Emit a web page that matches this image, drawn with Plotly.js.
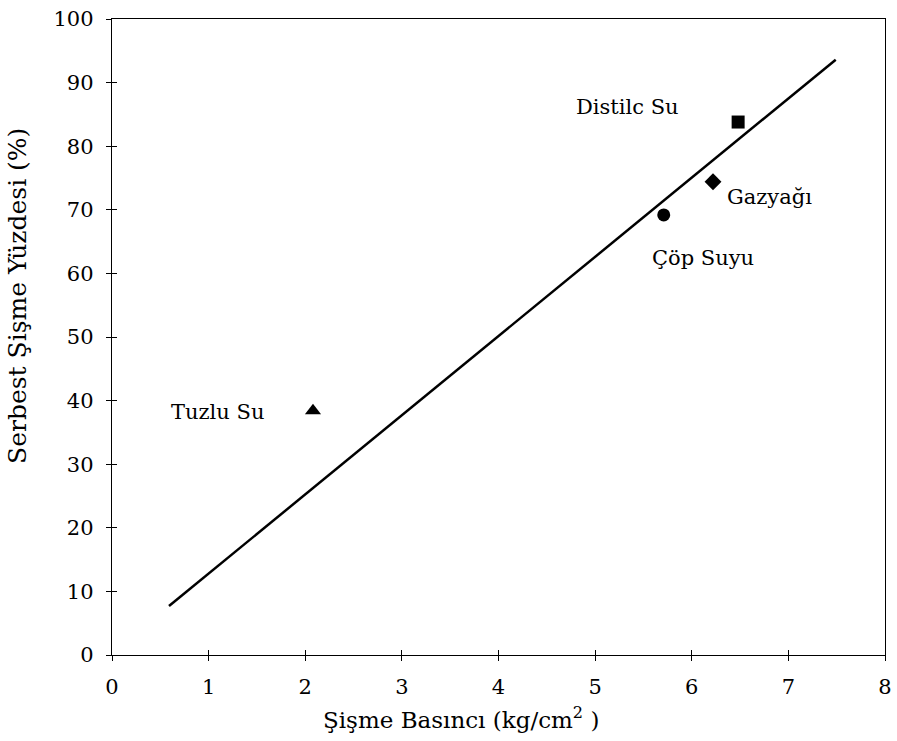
<!DOCTYPE html>
<html>
<head>
<meta charset="utf-8">
<script src="https://cdn.plot.ly/plotly-3.0.1.min.js"></script>
<style>html,body{margin:0;padding:0;background:#fff;}#chart{width:897px;height:741px;}</style>
</head>
<body>
<div id="chart"></div>
<script>
// Data
const sampleNames = ["Tuzlu Su", "Çöp Suyu", "Gazyağı", "Distile Su"];
const labelTexts = ["Tuzlu Su", "Çöp Suyu", "Gazyağı", "Distilc Su"];
const swellPressure = [2.08, 5.71, 6.22, 6.48];
const freeSwellPct = [38.4, 69.2, 74.4, 83.8];
const markerSymbols = ["triangle-up", "circle", "diamond", "square"];
const labelX = [1.09, 6.12, 6.34, 5.34];
const labelY = [38.2, 62.4, 72.0, 86.2];
const labelAnchor = ["center", "center", "left", "center"];
const fitX = [0.59, 7.49];
const fitY = [7.7, 93.6];
const xTicks = [0, 1, 2, 3, 4, 5, 6, 7, 8];
const yTicks = [0, 10, 20, 30, 40, 50, 60, 70, 80, 90, 100];
const xTitle = "Şişme Basıncı (kg/cm<sup>2</sup> )";
const yTitle = "Serbest Şişme Yüzdesi (%)";

const font = {family: "DejaVu Serif, Liberation Serif, serif", color: "#000"};
const f = (s) => Object.assign({size: s}, font);

const traces = [
  {x: fitX, y: fitY, mode: "lines", line: {color: "#000", width: 2.5}, showlegend: false, hoverinfo: "skip"},
  {x: swellPressure, y: freeSwellPct, mode: "markers", text: sampleNames,
   marker: {symbol: markerSymbols, size: [14, 13, 13, 13], color: "#000", opacity: 1,
            line: {width: 0}}, showlegend: false},
  {x: [0], y: [0], xaxis: "x2", yaxis: "y2", mode: "markers", marker: {opacity: 0}, showlegend: false, hoverinfo: "skip"}
];

const annotations = labelTexts.map((t, i) => ({
  x: labelX[i], y: labelY[i], xref: "x", yref: "y", text: t, showarrow: false,
  xanchor: labelAnchor[i], yanchor: "middle", font: f(21)
}));
annotations.push({xref: "paper", yref: "paper", x: 0.4515, y: -0.099, text: xTitle,
  showarrow: false, xanchor: "center", yanchor: "middle", font: f(23)});
annotations.push({xref: "paper", yref: "paper", x: -0.1216, y: 0.5645, text: yTitle, textangle: -90,
  showarrow: false, xanchor: "center", yanchor: "middle", font: f(25)});

const axisCommon = {
  showgrid: false, zeroline: false, showline: true, linecolor: "#000", linewidth: 1.2, mirror: true,
  ticks: "outside", ticklen: 5, tickcolor: "#000", tickwidth: 1, tickfont: f(21), ticklabelstandoff: 8
};

const layout = {
  width: 897, height: 741,
  margin: {l: 112, r: 12, t: 19, b: 86},
  paper_bgcolor: "#fff", plot_bgcolor: "#fff",
  font: font,
  xaxis: Object.assign({range: [0, 8], tickvals: xTicks, ticktext: xTicks.map(String)}, axisCommon),
  yaxis: Object.assign({range: [0, 100], tickvals: yTicks, ticktext: yTicks.map(String)}, axisCommon),
  xaxis2: {overlaying: "x", matches: "x", range: [0, 8], tickvals: xTicks, showticklabels: false,
    ticks: "inside", ticklen: 5, tickcolor: "#000", showgrid: false, zeroline: false, showline: false},
  yaxis2: {overlaying: "y", matches: "y", range: [0, 100], tickvals: yTicks, showticklabels: false,
    ticks: "inside", ticklen: 5, tickcolor: "#000", showgrid: false, zeroline: false, showline: false},
  annotations: annotations
};

Plotly.newPlot("chart", traces, layout, {displayModeBar: false, staticPlot: true});
</script>
</body>
</html>
